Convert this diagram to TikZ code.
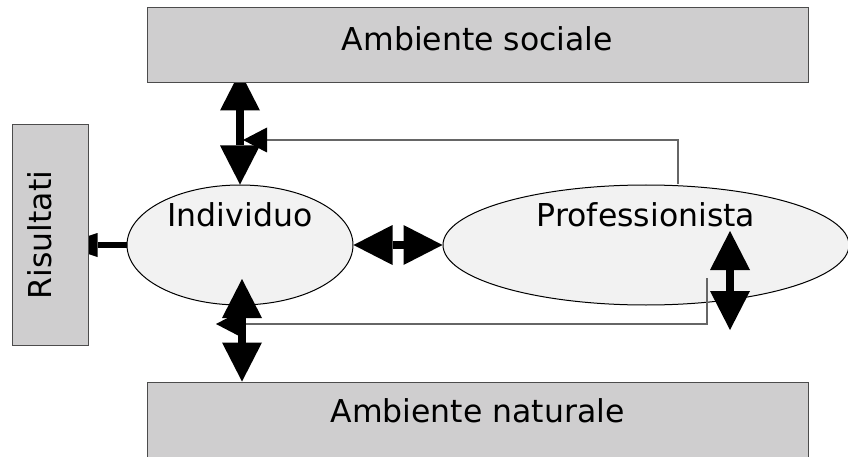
\documentclass[tikz,border=0pt]{standalone}
\usepackage{fontspec}
\setmainfont{DejaVu Sans}
\usetikzlibrary{arrows.meta,shapes.geometric}
\pgfdeclarelayer{bg}
\pgfdeclarelayer{arr}
\pgfsetlayers{bg,arr,main}
\definecolor{boxgray}{RGB}{207,206,207}
\definecolor{ellgray}{RGB}{242,242,242}
\definecolor{linegray}{RGB}{102,102,102}
\begin{document}
\begin{tikzpicture}[x=1pt,y=-1pt,
  box/.style={draw=black!70, fill=boxgray, line width=1pt, inner sep=0pt},
  ell/.style={ellipse, draw=black, fill=ellgray, line width=1pt, inner sep=0pt},
  lbl/.style={font=\fontsize{31.5}{38}\selectfont, inner sep=0pt, anchor=base},
  big/.style={line width=8pt, >={Triangle[length=39pt,width=40pt,line width=0pt]}, <->},
  thinarrow/.style={draw=linegray, line width=1.3pt, -{Triangle[length=24pt,width=25pt,line width=0pt,color=black]}}]
\useasboundingbox (0,0) rectangle (848,457);
\begin{pgfonlayer}{bg}
\fill[white] (0,0) rectangle (848,457);
\node[ell, minimum width=226pt, minimum height=120pt] (ind) at (240,245) {};
\node[ell, minimum width=406pt, minimum height=120pt] (prof) at (646,245) {};
\end{pgfonlayer}
\node[box, minimum width=661pt, minimum height=75pt] (soc) at (477.5,45.5) {};
\node[box, minimum width=661pt, minimum height=80pt] (nat) at (477.5,422) {};
\node[box, minimum width=76pt, minimum height=220pt] (ris) at (50,235) {};
\node[lbl] (socT) at (477.5,51) {Ambiente sociale};
\node[lbl] (natT) at (477.5,422) {Ambiente naturale};
\node[lbl] (indT) at (240,226) {Individuo};
\node[lbl] (profT) at (646,226) {Professionista};
\node[lbl, rotate=90] (risT) at (51,235) {Risultati};
\begin{pgfonlayer}{arr}
\coordinate (t1) at (243,140);
\coordinate (p1) at ([xshift=32pt]prof.north);
\draw[thinarrow] (p1) |- (t1);
\coordinate (b0) at (707,278);
\coordinate (b1) at (216,324);
\draw[thinarrow] (b0) |- (b1);
\draw[big] ([yshift=12pt]ind.north |- soc.south) -- (ind.north);
\coordinate (i1) at (242,279);
\draw[big] (i1) -- (i1 |- nat.north);
\draw[big] (ind.east) -- (prof.west);
\coordinate (r1) at (730,231);
\coordinate (r2) at (730,330);
\draw[big] (r1) -- (r2);
\draw[line width=6.5pt, -{Triangle[length=37pt,width=24pt,line width=0pt]}] (ind.west) -- ([xshift=-28pt]ind.west -| ris.east);
\end{pgfonlayer}
\end{tikzpicture}
\end{document}
